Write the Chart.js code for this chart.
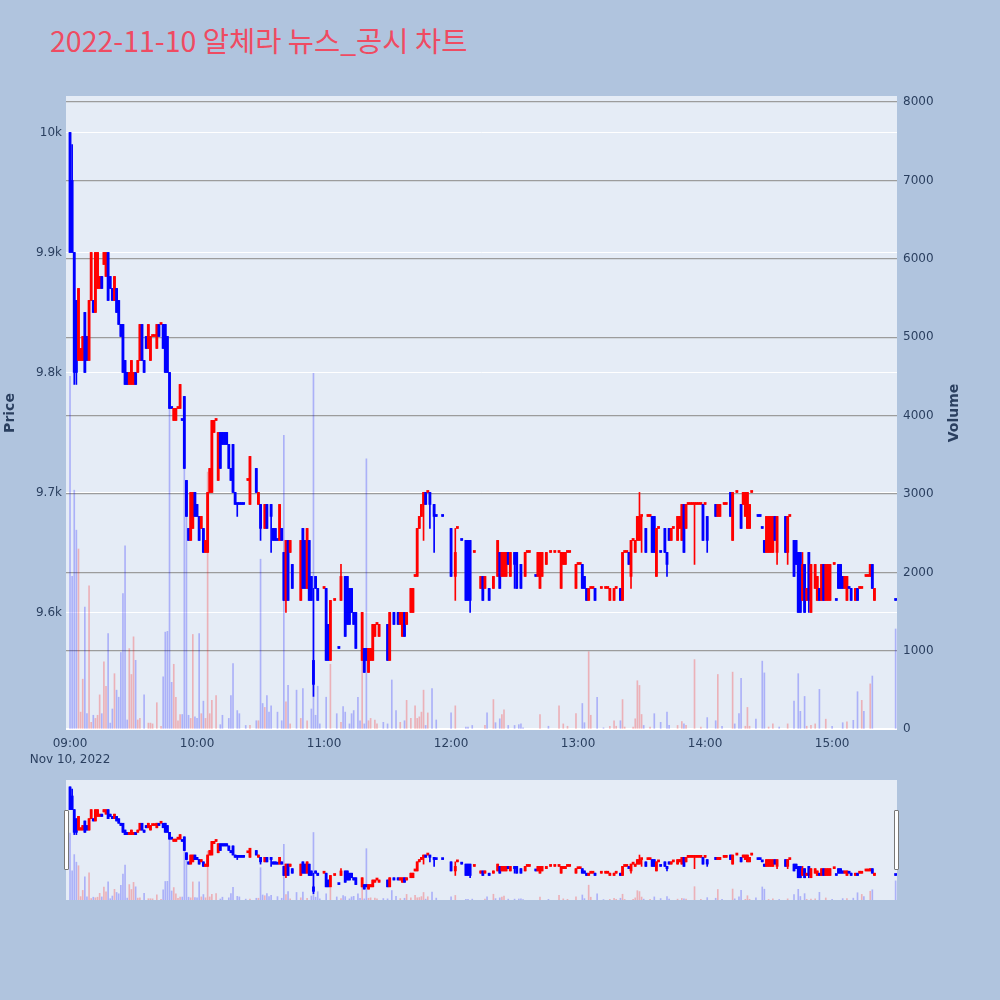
<!DOCTYPE html>
<html><head><meta charset="utf-8">
<script src="https://cdn.jsdelivr.net/npm/chart.js@4"></script>
<style>
html,body{margin:0;padding:0;background:#b0c4de;width:1000px;height:1000px;overflow:hidden;}
#title{position:absolute;left:50px;top:25px;font-size:28.5px;line-height:29px;font-family:"Noto Sans CJK KR","Open Sans",sans-serif;color:#ef4b62;white-space:nowrap;}
#main{position:absolute;left:0;top:0;}
#sliderWrap{position:absolute;left:66px;top:780px;width:831px;height:120px;background:#e5ecf6;}
#slider{position:absolute;left:0;top:0;}
.handle{position:absolute;top:810px;width:3px;height:58px;background:#fff;border:1px solid #777;border-radius:1px;}
</style></head><body>
<div id="title">2022-11-10 알체라 뉴스_공시 차트</div>
<canvas id="main" width="964" height="780"></canvas>
<div id="sliderWrap"><canvas id="slider" width="831" height="120"></canvas></div>
<div class="handle" style="left:64px"></div>
<div class="handle" style="left:894px"></div>
<script>
// ---- data (minutes after 09:00) ----
const minute = [
0,1,2,3,4,5,6,7,8,9, 10,11,12,13,14,15,16,17,18,19, 20,21,22,23,24,25,26,27,28,29,
30,31,32,33,34,35,36,37,38,39, 40,41,42,43,44,45,46,47,48,49, 50,51,52,53,54,55,56,57,58,59,
60,61,62,63,64,65,66,67,68,69, 70,71,72,73,74,75,76,77,78,79, 80,81,82,84,85,88,89,90,92,93,
95,96,97,98,99,100,101,102,103,104, 105,109,110,111,112,113,114,115,116,117,
120,121,122,123,125,127,128,130,131,132, 133,134,135,138,139,140,141,142,143,144,
145,146,150,151,153,155,156,157,158,159, 161,162,163,164,165,166,167,168,169,170,
172,173,176,180,182,183,185,187,188,189, 191,194,195,196,198,200,202,203,204,205,
206,207,208,210,211,213,215,216,217,220, 221,222,223,225,227,229,231,232,233,234,
235,236,239,240,241,242,243,244,245,246, 247,248,251,253,254,255,257,258,260,261,
262,263,264,265,266,267,268,269,270,272, 273,274,275,276,277,278,279,281,282,283,
284,285,287,288,289,290,291,292,293,294, 295,296,297,298,299,300,301,305,306,307,
309,310,312,313,315,317,318,319,320,321, 322,325,326,327,328,329,330,331,332,333,
334,338,339,340,342,343,344,345,346,347, 348,349,350,352,353,354,355,356,357,358,
359,361,362,363,364,365,366,367,368,369, 371,372,373,374,376,377,378,379,380,390];
const openP = [
10000,9960,9900,9860,9810,9810,9810,9850,9830,9810, 9860,9860,9850,9870,9870,9880,9890,9880,9900,9880, 9870,9860,9870,9860,9840,9840,9810,9800,9790,9790,
9790,9800,9800,9810,9840,9810,9830,9820,9810,9830, 9830,9820,9840,9840,9840,9840,9830,9800,9770,9760, 9760,9770,9770,9760,9780,9710,9670,9660,9670,9700,
9690,9680,9670,9670,9650,9650,9700,9700,9750,9760, 9710,9750,9750,9750,9750,9740,9720,9740,9700,9690, 9690,9690,9690,9710,9690,9720,9690,9690,9670,9690,
9690,9670,9670,9660,9660,9670,9650,9610,9660,9650, 9640,9610,9670,9660,9620,9660,9630,9560,9630,9620,
9620,9620,9590,9560,9610,9570,9610,9630,9630,9620, 9620,9600,9600,9560,9570,9570,9550,9560,9560,9580,
9590,9580,9590,9560,9600,9600,9590,9580,9600,9590, 9600,9600,9630,9630,9670,9680,9690,9700,9700,9700,
9690,9680,9680,9670,9630,9670,9660,9660,9660,9660, 9650,9620,9630,9620,9620,9620,9630,9650,9630,9630,
9630,9650,9630,9650,9650,9640,9630,9650,9650,9630, 9630,9620,9630,9640,9650,9650,9650,9620,9640,9640,
9650,9650,9620,9640,9640,9640,9630,9620,9610,9620, 9620,9620,9620,9620,9620,9610,9610,9620,9620,9610,
9650,9650,9650,9630,9660,9650,9660,9660,9680,9670, 9680,9680,9680,9680,9630,9670,9650,9670,9650,9670,
9660,9670,9660,9670,9660,9690,9670,9690,9690,9690, 9690,9690,9690,9690,9690,9690,9680,9690,9680,9680,
9690,9690,9700,9660,9700,9690,9690,9680,9670,9670, 9700,9680,9680,9670,9660,9650,9650,9650,9650,9680,
9650,9680,9650,9680,9660,9660,9650,9650,9610,9640, 9610,9650,9600,9620,9610,9620,9610,9640,9610,9610,
9610,9640,9610,9640,9640,9630,9620,9610,9620,9620, 9610,9620,9620,9620,9630,9630,9630,9640,9610,9610];
const highP = [
10000,9990,9900,9860,9870,9820,9830,9850,9830,9860, 9900,9860,9900,9900,9880,9880,9900,9900,9900,9880, 9870,9880,9870,9860,9840,9840,9810,9800,9800,9810,
9800,9800,9810,9840,9840,9810,9830,9840,9830,9830, 9830,9840,9840,9840,9840,9840,9830,9800,9770,9770, 9770,9770,9790,9760,9780,9710,9670,9700,9700,9700,
9690,9680,9680,9670,9660,9700,9720,9760,9760,9760, 9750,9750,9750,9750,9750,9740,9720,9740,9700,9690, 9690,9690,9690,9710,9730,9720,9700,9690,9690,9690,
9690,9670,9670,9660,9690,9670,9650,9660,9660,9660, 9640,9660,9670,9660,9670,9660,9630,9620,9630,9620,
9620,9620,9590,9610,9610,9570,9640,9630,9630,9620, 9620,9600,9600,9600,9570,9570,9570,9570,9590,9590,
9590,9590,9590,9600,9600,9600,9600,9600,9600,9600, 9620,9620,9630,9670,9680,9690,9700,9700,9700,9700,
9690,9680,9680,9670,9670,9670,9660,9660,9660,9660, 9650,9630,9630,9630,9620,9630,9660,9650,9650,9650,
9650,9650,9650,9650,9650,9640,9650,9650,9650,9630, 9650,9650,9650,9650,9650,9650,9650,9650,9650,9650,
9650,9650,9640,9640,9640,9640,9630,9620,9620,9620, 9620,9620,9620,9620,9620,9620,9620,9620,9620,9650,
9650,9650,9650,9660,9660,9660,9680,9700,9680,9670, 9680,9680,9680,9680,9670,9670,9650,9670,9650,9670,
9670,9670,9680,9680,9690,9690,9690,9690,9690,9690, 9690,9690,9690,9690,9690,9690,9680,9690,9690,9690,
9690,9690,9700,9700,9700,9690,9700,9700,9700,9690, 9700,9680,9680,9670,9660,9680,9680,9680,9680,9680,
9680,9680,9680,9680,9660,9660,9650,9650,9650,9640, 9620,9650,9640,9640,9630,9620,9640,9640,9640,9640,
9640,9640,9610,9640,9640,9630,9630,9630,9620,9620, 9620,9620,9620,9620,9630,9630,9640,9640,9620,9610];
const lowP = [
9900,9900,9790,9790,9810,9810,9810,9800,9810,9810, 9860,9850,9850,9870,9870,9870,9890,9880,9860,9870, 9860,9860,9850,9840,9830,9800,9790,9790,9790,9790,
9790,9790,9800,9810,9810,9800,9820,9820,9810,9830, 9830,9820,9830,9840,9820,9800,9800,9770,9770,9760, 9760,9770,9770,9760,9720,9680,9660,9660,9670,9680,
9680,9660,9670,9650,9650,9650,9700,9700,9750,9760, 9710,9720,9740,9740,9740,9720,9710,9700,9690,9680, 9690,9690,9690,9710,9690,9700,9690,9660,9670,9670,
9650,9660,9660,9660,9660,9660,9610,9600,9610,9650, 9620,9610,9620,9620,9620,9610,9610,9530,9620,9610,
9620,9560,9560,9560,9610,9570,9610,9580,9590,9590, 9600,9590,9570,9560,9550,9560,9550,9560,9560,9580,
9590,9580,9560,9560,9590,9590,9590,9580,9580,9590, 9600,9600,9630,9630,9670,9680,9660,9690,9700,9670,
9650,9680,9680,9630,9610,9670,9660,9610,9610,9600, 9650,9620,9610,9620,9610,9620,9630,9620,9630,9630,
9630,9640,9630,9620,9620,9620,9630,9650,9650,9630, 9630,9620,9630,9640,9650,9650,9650,9620,9640,9640,
9650,9650,9620,9640,9640,9620,9620,9610,9610,9620, 9620,9610,9620,9620,9620,9610,9610,9620,9610,9610,
9650,9650,9640,9620,9660,9650,9660,9660,9650,9650, 9680,9680,9650,9650,9630,9670,9650,9650,9630,9660,
9660,9670,9660,9670,9660,9650,9670,9690,9690,9690, 9640,9690,9690,9690,9660,9690,9650,9680,9680,9680,
9690,9690,9680,9660,9700,9670,9690,9680,9670,9670, 9700,9680,9680,9670,9650,9650,9650,9650,9650,9660,
9640,9650,9640,9680,9630,9640,9600,9600,9610,9600, 9610,9600,9600,9620,9610,9610,9610,9610,9610,9610,
9610,9640,9610,9620,9620,9620,9620,9610,9620,9610, 9610,9610,9620,9620,9630,9630,9630,9620,9610,9610];
const closeP = [
9900,9900,9800,9800,9870,9820,9830,9800,9810,9860, 9900,9850,9900,9900,9880,9870,9900,9900,9860,9870, 9860,9880,9850,9840,9830,9800,9790,9790,9800,9810,
9800,9790,9810,9840,9810,9800,9820,9840,9830,9830, 9830,9840,9830,9840,9820,9800,9800,9770,9770,9770, 9770,9770,9790,9760,9720,9680,9660,9700,9700,9680,
9680,9660,9680,9650,9660,9700,9720,9760,9760,9760, 9750,9720,9740,9740,9740,9720,9710,9700,9690,9690, 9690,9690,9690,9710,9730,9700,9700,9670,9690,9670,
9680,9660,9660,9660,9690,9660,9610,9660,9610,9660, 9620,9660,9620,9620,9670,9610,9610,9540,9620,9610,
9620,9560,9560,9610,9610,9570,9630,9580,9590,9590, 9600,9590,9570,9600,9550,9560,9570,9570,9590,9590,
9590,9590,9560,9600,9590,9590,9600,9600,9580,9600, 9620,9620,9630,9670,9680,9690,9700,9690,9700,9690,
9680,9680,9680,9630,9650,9670,9660,9610,9610,9610, 9650,9630,9610,9630,9610,9630,9660,9620,9650,9650,
9650,9640,9650,9640,9620,9620,9650,9650,9650,9630, 9650,9650,9650,9650,9650,9650,9650,9650,9650,9650,
9650,9650,9640,9640,9640,9620,9620,9610,9620,9620, 9620,9610,9620,9620,9620,9620,9620,9620,9610,9650,
9650,9650,9640,9660,9660,9660,9680,9680,9680,9650, 9680,9680,9650,9650,9670,9670,9650,9650,9640,9660,
9670,9670,9680,9680,9690,9650,9690,9690,9690,9690, 9690,9690,9690,9690,9660,9690,9660,9680,9690,9690,
9690,9690,9680,9700,9700,9670,9700,9700,9700,9690, 9700,9680,9680,9670,9650,9680,9680,9680,9680,9660,
9680,9650,9680,9680,9630,9640,9600,9600,9640,9600, 9620,9610,9640,9640,9630,9610,9640,9610,9640,9640,
9640,9640,9610,9620,9620,9620,9630,9630,9620,9610, 9620,9610,9620,9620,9630,9630,9640,9620,9620,9610];

const volMinute = [
0,1,2,3,4,5,6,7,8,9,10,11,12,13,14,15,16,17,18,19,20,21,22,23,24,25,26,27,28,29,30,31,32,33,35,37,38,39,41,43,
44,45,46,47,48,49,50,51,52,53,54,55,56,57,58,59,60,61,62,63,64,65,66,67,69,71,72,75,76,77,79,80,83,85,88,89,90,91,92,93,
94,95,98,100,101,102,103,104,107,109,110,112,114,115,116,117,118,121,123,126,128,129,130,132,133,134,136,137,138,139,140,141,142,144,145,148,150,152,154,156,
158,159,161,163,164,165,166,167,168,169,171,173,180,182,187,188,190,196,197,200,201,203,204,205,207,210,212,213,214,222,226,231,233,235,239,242,243,245,246,249,
252,255,257,258,260,261,262,266,267,268,269,270,271,274,276,279,282,283,287,289,290,291,295,298,301,305,306,308,313,314,316,317,319,320,321,324,327,328,330,332,
335,339,342,344,345,347,348,350,352,354,357,360,365,367,370,372,374,375,378,379,390];
const volume = [
4500,1950,3050,2540,2300,220,640,1560,200,1830,90,180,140,180,440,200,860,550,1220,80,260,710,500,410,980,1730,2340,120,1030,700,1180,880,120,140,440,80,80,70,340,40,
670,1240,1250,4100,600,830,410,110,190,190,4200,2850,180,140,1210,160,140,1220,200,360,140,3280,200,370,430,60,180,140,430,840,240,200,50,50,110,110,2170,330,280,430,
220,300,220,110,3750,350,560,70,500,140,520,110,260,4540,180,550,70,410,830,200,90,290,220,70,200,240,410,110,880,70,3450,110,140,120,70,90,70,630,240,90,
110,370,140,300,140,160,220,500,50,210,520,120,210,300,30,30,50,50,210,380,85,135,190,250,50,50,60,70,20,190,40,300,70,40,200,330,85,990,180,410,
20,40,110,40,110,380,30,30,135,620,560,190,50,30,200,90,220,50,50,100,70,50,890,30,150,110,700,40,730,70,200,650,40,280,40,130,870,720,30,70,
30,70,360,710,230,420,40,50,70,510,130,40,85,95,115,480,370,230,580,680,1280];

const tickMinutes = [0,60,120,180,240,300,360];
const timeTickLabels = ['09:00','10:00','11:00','12:00','13:00','14:00','15:00'];
const dateLabel = 'Nov 10, 2022';
const priceTicks = [9600,9700,9800,9900,10000];
const priceTickLabels = ['9.6k','9.7k','9.8k','9.9k','10k'];
const volumeTicks = [0,1000,2000,3000,4000,5000,6000,7000,8000];
const volumeTickLabels = ['0','1000','2000','3000','4000','5000','6000','7000','8000'];

// ---- derived styling ----
const UP = '#ff0000', DOWN = '#0000ff';
const UP_V = 'rgba(255,0,0,0.25)', DOWN_V = 'rgba(0,0,255,0.25)';
const incArr = [];
(function(){
  let dir = true, prev = null;
  for (let i = 0; i < minute.length; i++) {
    const o = openP[i], c = closeP[i];
    if (c === o) { if (prev !== null && c !== prev) dir = c > prev; }
    else dir = c > o;
    prev = c; incArr.push(dir);
  }
})();
const candleColors = incArr.map(d => d ? UP : DOWN);
const incByMinute = {};
minute.forEach((m,i)=>{ incByMinute[m] = incArr[i]; });
const volColors = volMinute.map(m => incByMinute[m] ? UP_V : DOWN_V);

const X_MIN = -1.9, X_MAX = 390.65;
const P_MIN = 9502, P_MAX = 10030.4;
const V_MIN = -8, V_MAX = 8076;

function makeDatasets(){
  return [
    {label:'volume', yAxisID:'yv', order:3, grouped:false, barThickness:1,
     data: volMinute.map((m,i)=>({x:m, y:volume[i]})), backgroundColor: volColors},
    {label:'wick', yAxisID:'y', order:2, grouped:false, barThickness:1,
     data: minute.map((m,i)=>({x:m, y:[lowP[i], highP[i]]})), backgroundColor: candleColors},
    {label:'body', yAxisID:'y', order:1, grouped:false, barThickness:2.2, minBarLength:2,
     data: minute.map((m,i)=>({x:m, y:[Math.min(openP[i],closeP[i]), Math.max(openP[i],closeP[i])]})), backgroundColor: candleColors}
  ];
}

const bgPlugin = {id:'bg', beforeDraw(chart){
  const {ctx, chartArea:a} = chart; ctx.save(); ctx.fillStyle = '#e5ecf6';
  ctx.fillRect(a.left, a.top, a.right-a.left, a.bottom-a.top); ctx.restore(); }};
const titlePlugin = {id:'axisTitles', afterDraw(chart){
  const ctx = chart.ctx; ctx.save();
  ctx.fillStyle = '#2a3f5f'; ctx.font = 'bold 14px "DejaVu Sans"';
  ctx.textAlign = 'center'; ctx.textBaseline = 'middle';
  ctx.translate(10, 413); ctx.rotate(-Math.PI/2); ctx.fillText('Price', 0, 0);
  ctx.restore(); ctx.save();
  ctx.fillStyle = '#2a3f5f'; ctx.font = 'bold 14px "DejaVu Sans"';
  ctx.textAlign = 'center'; ctx.textBaseline = 'middle';
  ctx.translate(954, 413); ctx.rotate(-Math.PI/2); ctx.fillText('Volume', 0, 0);
  ctx.restore(); }};

const tickFont = {family:'DejaVu Sans', size:12, lineHeight:1.3};
const tickColor = '#2a3f5f';

new Chart(document.getElementById('main'), {
  type:'bar',
  data:{datasets: makeDatasets()},
  plugins:[bgPlugin, titlePlugin],
  options:{
    responsive:false, animation:false, devicePixelRatio:1,
    layout:{padding:{top:96,left:0,right:0,bottom:0}},
    plugins:{legend:{display:false}, tooltip:{enabled:false}, title:{display:false}},
    scales:{
      x:{type:'linear', min:X_MIN, max:X_MAX, offset:false,
         grid:{display:false, drawTicks:false}, border:{display:false},
         afterBuildTicks: s => { s.ticks = tickMinutes.map(v=>({value:v})); },
         afterFit: s => { s.height = 50; },
         ticks:{autoSkip:false, maxRotation:0, minRotation:0, padding:6, color:tickColor, font:tickFont,
           callback: v => { const i = tickMinutes.indexOf(v); return i === 0 ? [timeTickLabels[0], dateLabel] : timeTickLabels[i]; }}},
      y:{type:'linear', position:'left', min:P_MIN, max:P_MAX,
         grid:{color:'#ffffff', lineWidth:1, drawTicks:false}, border:{display:false},
         afterBuildTicks: s => { s.ticks = priceTicks.map(v=>({value:v})); },
         afterFit: s => { s.width = 66; },
         ticks:{padding:4, color:tickColor, font:tickFont, callback: v => priceTickLabels[priceTicks.indexOf(v)]}},
      yv:{type:'linear', position:'right', min:V_MIN, max:V_MAX,
         grid:{color: c => (c.tick && c.tick.value === 0) ? '#ffffff' : '#9c9c9c',
               lineWidth: c => (c.tick && c.tick.value === 0) ? 2 : 1.2, drawTicks:false},
         border:{display:false},
         afterBuildTicks: s => { s.ticks = volumeTicks.map(v=>({value:v})); },
         afterFit: s => { s.width = 67; },
         ticks:{padding:6, color:tickColor, font:tickFont, callback: v => volumeTickLabels[volumeTicks.indexOf(v)]}}
    }
  }
});

new Chart(document.getElementById('slider'), {
  type:'bar',
  data:{datasets: makeDatasets()},
  options:{
    responsive:false, animation:false, devicePixelRatio:1,
    layout:{padding:0},
    plugins:{legend:{display:false}, tooltip:{enabled:false}},
    scales:{
      x:{type:'linear', min:X_MIN, max:X_MAX, offset:false, display:false},
      y:{type:'linear', min:P_MIN, max:P_MAX, display:false},
      yv:{type:'linear', position:'right', min:V_MIN, max:V_MAX, display:false}
    }
  }
});
</script>
</body></html>
